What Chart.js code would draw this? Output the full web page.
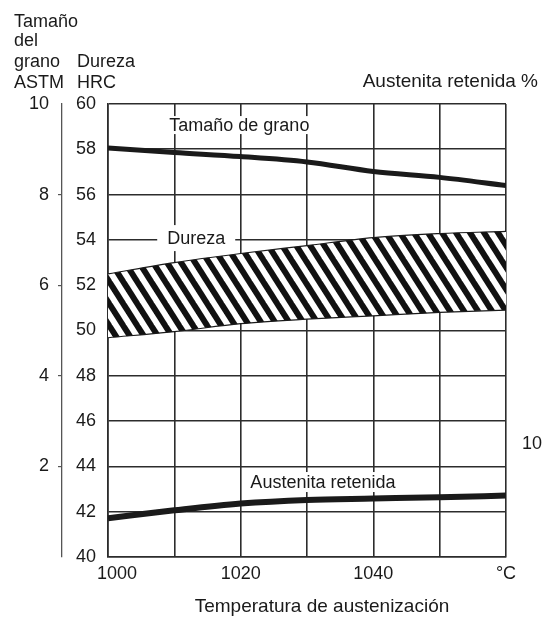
<!DOCTYPE html>
<html lang="es">
<head>
<meta charset="UTF-8">
<title>Temperatura de austenización</title>
<script src="https://cdn.jsdelivr.net/npm/chart.js@4.4.1/dist/chart.umd.min.js"></script>
<style>
  html, body { margin: 0; padding: 0; background: #fff; }
  #wrap { width: 551px; height: 621px; }
</style>
</head>
<body>
<div id="wrap"><canvas id="chart" width="551" height="621"></canvas></div>
<script>
// values
const temperatures = [1000, 1010, 1020, 1030, 1040, 1050, 1060];      // °C
const tempLabels = ['1000', '', '1020', '', '1040', '', '°C'];
const grainSize = [9.03, 8.93, 8.84, 8.72, 8.51, 8.38, 8.2];          // ASTM
const hardnessMax = [52.5, 53.0, 53.4, 53.75, 54.1, 54.28, 54.38];    // HRC
const hardnessMin = [49.68, 49.95, 50.3, 50.5, 50.65, 50.8, 50.9];    // HRC
const retainedAustenite = [3.42, 4.12, 4.72, 5.04, 5.16, 5.28, 5.42]; // %
const astmTicks = [2, 4, 6, 8, 10];
const austeniteTicks = [10];

const ink = '#1a1a1a';
const gridInk = '#2c2c2c';
const fontFamily = '"Liberation Sans", Arial, sans-serif';

Chart.defaults.font.family = fontFamily;
Chart.defaults.font.size = 18;
Chart.defaults.color = ink;

function pts(values) {
  return temperatures.map((t, i) => ({ x: t, y: values[i] }));
}

// diagonal hatching for the hardness band
function hatch() {
  const c = document.createElement('canvas');
  c.width = 14; c.height = 22;
  const g = c.getContext('2d');
  g.fillStyle = '#fff';
  g.fillRect(0, 0, 14, 22);
  g.strokeStyle = '#111';
  g.lineWidth = 6;
  for (const dx of [-14, 0, 14]) {
    g.beginPath();
    g.moveTo(dx - 14, -22);
    g.lineTo(dx + 28, 44);
    g.stroke();
  }
  return g.createPattern(c, 'repeat');
}

// labels inside the plot, anchored to axis values, with a white box behind
const curveLabels = [
  { text: 'Tamaño de grano', x: 1019.8, y: 59.07, padX: 2, padY: 9 },
  { text: 'Dureza', x: 1013.3, y: 54.08, padX: 10, padY: 13 },
  { text: 'Austenita retenida', x: 1032.4, y: 43.31, padX: 2, padY: 10 }
];

const headerTexts = [
  { text: 'Tamaño', x: 14, y: 27, align: 'left', size: 18 },
  { text: 'del', x: 14, y: 46, align: 'left', size: 18 },
  { text: 'grano', x: 14, y: 67, align: 'left', size: 18 },
  { text: 'ASTM', x: 14, y: 88, align: 'left', size: 18 },
  { text: 'Dureza', x: 77, y: 67, align: 'left', size: 18 },
  { text: 'HRC', x: 77, y: 88, align: 'left', size: 18 },
  { text: 'Austenita retenida %', x: 538, y: 87, align: 'right', size: 19 },
  { text: 'Temperatura de austenización', x: 322, y: 612, align: 'center', size: 19 }
];

const textPlugin = {
  id: 'texts',
  beforeDatasetsDraw(chart) {
    const { ctx, scales } = chart;
    ctx.save();
    ctx.font = '18px ' + fontFamily;
    ctx.textAlign = 'center';
    ctx.textBaseline = 'middle';
    curveLabels.forEach(l => {
      const px = scales.x.getPixelForValue(l.x);
      const py = scales.y.getPixelForValue(l.y);
      const w = ctx.measureText(l.text).width;
      ctx.fillStyle = '#fff';
      ctx.fillRect(px - w / 2 - l.padX, py - l.padY, w + 2 * l.padX, 2 * l.padY);
      ctx.fillStyle = ink;
      ctx.fillText(l.text, px, py + 1);
    });
    ctx.restore();
  },
  afterDraw(chart) {
    const ctx = chart.ctx;
    ctx.save();
    ctx.fillStyle = ink;
    ctx.textBaseline = 'alphabetic';
    headerTexts.forEach(h => {
      ctx.font = h.size + 'px ' + fontFamily;
      ctx.textAlign = h.align;
      ctx.fillText(h.text, h.x, h.y);
    });
    ctx.restore();
  }
};

new Chart(document.getElementById('chart'), {
  type: 'line',
  data: {
    datasets: [
      {
        label: 'Tamaño de grano',
        data: pts(grainSize),
        yAxisID: 'yAstm',
        borderColor: ink,
        borderWidth: 5,
        cubicInterpolationMode: 'monotone',
        pointRadius: 0,
        fill: false
      },
      {
        label: 'Dureza min',
        data: pts(hardnessMin),
        yAxisID: 'y',
        borderColor: ink,
        borderWidth: 1.2,
        cubicInterpolationMode: 'monotone',
        pointRadius: 0,
        fill: false
      },
      {
        label: 'Dureza max',
        data: pts(hardnessMax),
        yAxisID: 'y',
        borderColor: ink,
        borderWidth: 1.2,
        backgroundColor: hatch(),
        cubicInterpolationMode: 'monotone',
        pointRadius: 0,
        fill: '-1'
      },
      {
        label: 'Austenita retenida',
        data: pts(retainedAustenite),
        yAxisID: 'yAust',
        borderColor: ink,
        borderWidth: 6,
        cubicInterpolationMode: 'monotone',
        pointRadius: 0,
        fill: false
      }
    ]
  },
  options: {
    responsive: false,
    animation: false,
    devicePixelRatio: 1,
    layout: { padding: { top: 104, left: 0, right: 0, bottom: 0 } },
    plugins: {
      legend: { display: false },
      tooltip: { enabled: false }
    },
    scales: {
      x: {
        type: 'linear',
        min: 1000,
        max: 1060,
        ticks: {
          stepSize: 10,
          autoSkip: false,
          maxRotation: 0,
          padding: 6,
          // small shift on the first label, like the printed figure
          callback: v => {
            const s = tempLabels[temperatures.indexOf(v)] || '';
            return v === 1000 ? '\u2003' + s : s;
          }
        },
        grid: { color: gridInk, lineWidth: 1.6, drawTicks: false },
        border: { color: gridInk, width: 1.6 },
        afterFit: s => { s.height = 64; }
      },
      y: {
        position: 'left',
        weight: 0,
        min: 40,
        max: 60,
        ticks: { stepSize: 2, padding: 12 },
        grid: { color: gridInk, lineWidth: 1.6, drawTicks: false },
        border: { color: gridInk, width: 1.6 },
        afterFit: s => { s.width = 46; }
      },
      yAstm: {
        position: 'left',
        weight: 1,
        min: 0,
        max: 10,
        ticks: {
          stepSize: 2,
          padding: 9,
          callback: v => astmTicks.includes(v) ? v : ''
        },
        grid: {
          drawOnChartArea: false,
          tickLength: 4,
          lineWidth: 1.2,
          color: c => (c.tick && astmTicks.includes(c.tick.value) && c.tick.value !== 10) ? '#555' : 'rgba(0,0,0,0)'
        },
        border: { color: '#555', width: 1.3 },
        afterFit: s => { s.width = 62; }
      },
      yAust: {
        position: 'right',
        min: 0,
        max: 40,
        ticks: {
          stepSize: 10,
          padding: 16,
          callback: v => austeniteTicks.includes(v) ? v : ''
        },
        grid: { display: false, drawTicks: false },
        border: { display: false },
        afterFit: s => { s.width = 45; }
      }
    }
  },
  plugins: [textPlugin]
});
</script>
</body>
</html>
